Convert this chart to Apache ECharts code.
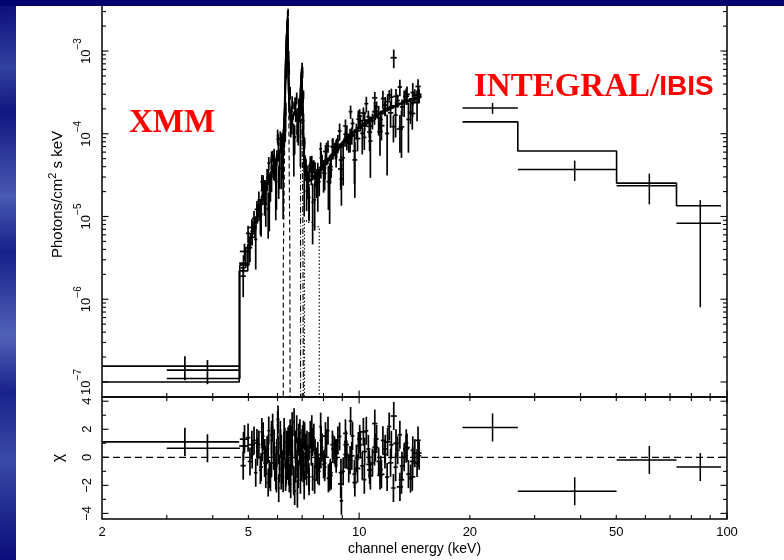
<!DOCTYPE html>
<html>
<head>
<meta charset="utf-8">
<script src="https://cdn.jsdelivr.net/npm/echarts@6/dist/echarts.min.js"></script>
<style>
  html, body { margin: 0; padding: 0; background: #ffffff; }
  #chart { width: 784px; height: 560px; }
</style>
</head>
<body>
<div id="chart"></div>
<script>
// ---------------- XMM-Newton spectrum 1 (bin edges in keV, photons/cm^2/s/keV) ----------------
const xmm1Edges = [2.0, 4.72, 4.98, 5.12, 5.24, 5.34, 5.44, 5.53, 5.62, 5.70, 5.78, 5.86, 5.94, 6.01, 6.08, 6.15, 6.22, 6.29, 6.35, 6.39, 6.43, 6.48, 6.55, 6.62, 6.69, 6.76, 6.83, 6.90, 6.97, 7.03, 7.09, 7.17, 7.26, 7.36, 7.47, 7.59, 7.72, 7.86, 8.00, 8.15, 8.31, 8.48, 8.66, 8.85, 9.05, 9.26, 9.48, 9.71, 9.95, 10.20, 10.46, 10.73, 11.01, 11.30, 11.60, 11.91, 12.23, 12.56, 12.90, 13.25, 13.61, 13.98, 14.36, 14.75];
const xmm1Flux = [1.55e-7, 2.73e-6, 4.19e-6, 9.52e-6, 1.12e-5, 1.02e-5, 2.61e-5, 2.07e-5, 3.06e-5, 2.21e-5, 5.41e-5, 3.64e-5, 5.22e-5, 2.84e-5, 7.44e-5, 6.05e-5, 1.08e-4, 2.0e-4, 1.575e-3, 2.95e-3, 5.65e-4, 1.14e-4, 1.44e-4, 2.2e-4, 1.67e-4, 1.04e-4, 1.75e-4, 2.0e-4, 6.6e-4, 2.98e-4, 4.25e-5, 3.43e-5, 1.55e-5, 3.08e-5, 4.05e-5, 2.96e-5, 2.63e-5, 4.58e-5, 3.87e-5, 7.08e-5, 4.0e-5, 6.6e-5, 8.31e-5, 2.85e-5, 8.63e-5, 7.73e-5, 1.33e-4, 1.10e-4, 1.44e-4, 9.04e-5, 1.61e-4, 1.44e-4, 2.12e-4, 1.48e-4, 2.01e-4, 2.95e-4, 1.22e-4, 2.52e-4, 2.11e-4, 3.01e-4, 1.83e-4, 2.89e-4, 2.90e-4];
const xmm1Err = [5.0e-8, 6.6e-7, 1.38e-6, 2.1e-6, 3.0e-6, 4.2e-6, 5.4e-6, 6.6e-6, 5.9e-6, 7.0e-6, 8.1e-6, 9.5e-6, 1.08e-5, 1.21e-5, 1.34e-5, 1.5e-5, 1.28e-5, 3.6e-5, 1.5e-4, 3.0e-4, 5.0e-5, 2.4e-5, 2.1e-5, 2.4e-5, 2.85e-5, 2.55e-5, 2.25e-5, 3.0e-5, 6.0e-5, 3.6e-5, 1.25e-5, 7.0e-6, 6.75e-6, 7.0e-6, 7.5e-6, 8.0e-6, 8.75e-6, 9.75e-6, 1.08e-5, 1.2e-5, 1.08e-5, 1.2e-5, 1.34e-5, 1.5e-5, 1.66e-5, 1.84e-5, 2.04e-5, 2.24e-5, 2.44e-5, 2.66e-5, 2.88e-5, 3.12e-5, 3.36e-5, 3.6e-5, 3.86e-5, 4.1e-5, 4.34e-5, 4.58e-5, 4.8e-5, 5.0e-5, 5.2e-5, 5.5e-5, 5.7e-5];
const xmm1Model = [1.0e-7, 2.2e-6, 4.6e-6, 7.0e-6, 1.0e-5, 1.4e-5, 1.8e-5, 2.2e-5, 2.7e-5, 3.2e-5, 3.7e-5, 4.3e-5, 4.9e-5, 5.5e-5, 6.1e-5, 6.8e-5, 8.5e-5, 2.4e-4, 1.5e-3, 2.6e-3, 5.0e-4, 1.6e-4, 1.4e-4, 1.6e-4, 1.9e-4, 1.7e-4, 1.5e-4, 2.0e-4, 6.0e-4, 2.4e-4, 5.0e-5, 2.8e-5, 2.7e-5, 2.8e-5, 3.0e-5, 3.2e-5, 3.5e-5, 3.9e-5, 4.3e-5, 4.8e-5, 5.4e-5, 6.0e-5, 6.7e-5, 7.5e-5, 8.3e-5, 9.2e-5, 1.02e-4, 1.12e-4, 1.22e-4, 1.33e-4, 1.44e-4, 1.56e-4, 1.68e-4, 1.80e-4, 1.93e-4, 2.05e-4, 2.17e-4, 2.29e-4, 2.40e-4, 2.51e-4, 2.62e-4, 2.73e-4, 2.84e-4];

// ---------------- XMM-Newton spectrum 2 ----------------
const xmm2Edges = [3.0, 4.74, 5.02, 5.20, 5.35, 5.48, 5.60, 5.72, 5.84, 5.96, 6.08, 6.20, 6.30, 6.37, 6.42, 6.50, 6.62, 6.74, 6.86, 6.95, 7.02, 7.10, 7.22, 7.38, 7.56, 7.76, 7.98, 8.22, 8.48, 8.76, 9.06, 9.38, 9.72, 10.08, 10.46, 10.86, 11.28, 11.72, 12.18, 12.66, 13.16, 13.68, 14.22, 14.78];
const xmm2Flux = [1.39e-7, 3.78e-6, 7.36e-6, 1.22e-5, 1.06e-5, 2.1e-5, 1.24e-5, 4.63e-5, 3.78e-5, 8.6e-5, 3.82e-5, 9.28e-5, 5.35e-4, 2.25e-3, 2.66e-4, 1.86e-4, 9.1e-5, 1.73e-4, 2.28e-4, 4.6e-4, 1.44e-4, 4.09e-5, 1.70e-5, 3.79e-5, 2.57e-5, 3.91e-5, 6.11e-5, 3.68e-5, 6.32e-5, 3.75e-5, 9.85e-5, 9.63e-5, 8.73e-5, 1.78e-4, 1.23e-4, 1.85e-4, 1.25e-4, 2.45e-4, 8.3e-4, 1.14e-4, 2.84e-4, 1.76e-4, 3.0e-4];
const xmm2Err = [4.5e-8, 9.1e-7, 1.96e-6, 3.15e-6, 4.9e-6, 6.65e-6, 7.0e-6, 8.96e-6, 1.12e-5, 1.37e-5, 1.68e-5, 1.6e-5, 7.2e-5, 2.5e-4, 5.6e-5, 3.0e-5, 3.5e-5, 3.2e-5, 3.4e-5, 6.7e-5, 3.2e-5, 9.8e-6, 7.84e-6, 8.1e-6, 8.96e-6, 1.04e-5, 1.2e-5, 1.2e-5, 1.42e-5, 1.66e-5, 1.94e-5, 2.26e-5, 2.6e-5, 2.98e-5, 3.36e-5, 3.8e-5, 4.2e-5, 4.66e-5, 2.1e-4, 5.5e-5, 5.95e-5, 6.4e-5, 6.7e-5];
const xmm2Model = [1.10e-7, 2.6e-6, 5.6e-6, 9.0e-6, 1.4e-5, 1.9e-5, 2.5e-5, 3.2e-5, 4.0e-5, 4.9e-5, 6.0e-5, 8.0e-5, 6.0e-4, 2.1e-3, 3.5e-4, 1.5e-4, 1.75e-4, 1.6e-4, 1.7e-4, 4.8e-4, 1.6e-4, 3.5e-5, 2.8e-5, 2.9e-5, 3.2e-5, 3.7e-5, 4.3e-5, 5.0e-5, 5.9e-5, 6.9e-5, 8.1e-5, 9.4e-5, 1.08e-4, 1.24e-4, 1.40e-4, 1.58e-4, 1.76e-4, 1.94e-4, 2.12e-4, 2.30e-4, 2.48e-4, 2.65e-4, 2.80e-4];

// ---------------- XMM-Newton spectrum 3 ----------------
const xmm3Edges = [4.76, 4.92, 5.06, 5.18, 5.29, 5.39, 5.49, 5.58, 5.66, 5.74, 5.82, 5.90, 5.97, 6.04, 6.11, 6.18, 6.25, 6.32, 6.38, 6.41, 6.46, 6.53, 6.60, 6.67, 6.73, 6.80, 6.87, 6.93, 6.99, 7.05, 7.13, 7.21, 7.31, 7.42, 7.53, 7.65, 7.79, 7.93, 8.08, 8.23, 8.40, 8.57, 8.75, 8.95, 9.15, 9.37, 9.59, 9.83, 10.07, 10.33, 10.59, 10.87, 11.15, 11.45, 11.76, 12.07, 12.40, 12.73, 13.08, 13.43, 13.80, 14.18, 14.56];
const xmm3Flux = [1.90e-6, 6.26e-6, 6.63e-6, 5.29e-6, 1.58e-5, 2.61e-5, 1.72e-5, 2.88e-5, 1.68e-5, 4.90e-5, 4.14e-5, 2.51e-5, 9.39e-5, 4.18e-5, 7.87e-5, 3.56e-5, 1.66e-4, 8.33e-4, 2.69e-3, 8.5e-4, 3.14e-4, 1.34e-4, 9.3e-5, 2.27e-4, 2.7e-4, 1.12e-4, 1.76e-4, 3.06e-4, 5.55e-4, 4.0e-5, 3.74e-5, 2.56e-5, 4.37e-5, 1.48e-5, 3.43e-5, 2.33e-5, 6.55e-5, 3.38e-5, 6.21e-5, 2.6e-5, 6.9e-5, 6.13e-5, 1.08e-4, 5.13e-5, 9.36e-5, 1.85e-4, 6.21e-5, 1.50e-4, 1.01e-4, 2.31e-4, 8.18e-5, 1.85e-4, 1.56e-4, 2.66e-4, 1.01e-4, 2.77e-4, 1.68e-4, 3.67e-4, 2.46e-4, 1.49e-4, 3.15e-4, 2.39e-4];
const xmm3Err = [8.4e-7, 1.47e-6, 2.17e-6, 3.01e-6, 4.2e-6, 5.6e-6, 7.0e-6, 8.58e-6, 1.02e-5, 1.21e-5, 1.4e-5, 1.61e-5, 1.82e-5, 2.03e-5, 2.28e-5, 2.63e-5, 3.25e-5, 1.35e-4, 3.6e-4, 1.5e-4, 5.5e-5, 3.63e-5, 3.88e-5, 4.63e-5, 4.5e-5, 4.0e-5, 4.0e-5, 6.3e-5, 8.1e-5, 3.0e-5, 1.05e-5, 9.6e-6, 9.8e-6, 1.02e-5, 1.09e-5, 1.19e-5, 1.3e-5, 1.44e-5, 1.61e-5, 1.79e-5, 2.0e-5, 2.22e-5, 2.49e-5, 2.77e-5, 3.06e-5, 3.4e-5, 3.75e-5, 4.1e-5, 4.48e-5, 4.87e-5, 5.25e-5, 5.67e-5, 6.09e-5, 6.55e-5, 6.97e-5, 7.39e-5, 7.8e-5, 8.23e-5, 8.61e-5, 9.0e-5, 9.38e-5, 9.73e-5];
const xmm3Model = [2.4e-6, 4.2e-6, 6.2e-6, 8.6e-6, 1.2e-5, 1.6e-5, 2.0e-5, 2.45e-5, 2.9e-5, 3.45e-5, 4.0e-5, 4.6e-5, 5.2e-5, 5.8e-5, 6.5e-5, 7.5e-5, 1.3e-4, 9.0e-4, 2.4e-3, 1.0e-3, 2.2e-4, 1.45e-4, 1.55e-4, 1.85e-4, 1.8e-4, 1.6e-4, 1.6e-4, 3.5e-4, 4.5e-4, 1.0e-4, 3.0e-5, 2.75e-5, 2.8e-5, 2.9e-5, 3.1e-5, 3.4e-5, 3.7e-5, 4.1e-5, 4.6e-5, 5.1e-5, 5.7e-5, 6.35e-5, 7.1e-5, 7.9e-5, 8.75e-5, 9.7e-5, 1.07e-4, 1.17e-4, 1.28e-4, 1.39e-4, 1.50e-4, 1.62e-4, 1.74e-4, 1.87e-4, 1.99e-4, 2.11e-4, 2.23e-4, 2.35e-4, 2.46e-4, 2.57e-4, 2.68e-4, 2.78e-4];

// ---------------- XMM-Newton spectrum 4 ----------------
const xmm4Edges = [5.40, 5.52, 5.63, 5.73, 5.83, 5.92, 6.00, 6.07, 6.14, 6.21, 6.28, 6.34, 6.38, 6.42, 6.47, 6.54, 6.61, 6.68, 6.75, 6.82, 6.89, 6.96, 7.01, 7.07, 7.15, 7.25, 7.37, 7.50, 7.64, 7.80, 7.97, 8.15, 8.35, 8.57, 8.80, 9.05, 9.31, 9.59, 9.88, 10.19, 10.51, 10.85, 11.21, 11.58, 11.97, 12.38, 12.81, 13.26, 13.73, 14.22, 14.70];
const xmm4Flux = [2.06e-5, 1.41e-5, 4.40e-5, 2.99e-5, 5.33e-5, 2.64e-5, 6.21e-5, 8.88e-5, 4.89e-5, 8.48e-5, 1.44e-4, 1.33e-3, 2.13e-3, 6.79e-4, 1.63e-4, 2.41e-4, 7.84e-5, 2.18e-4, 1.49e-4, 2.2e-4, 9.36e-5, 5.7e-4, 2.71e-4, 7.8e-5, 2.03e-5, 3.41e-5, 4.56e-5, 1.59e-5, 3.45e-5, 5.1e-5, 3.32e-5, 2.64e-5, 6.99e-5, 6.87e-5, 4.82e-5, 1.24e-4, 8.74e-5, 4.83e-5, 1.63e-4, 1.46e-4, 1.05e-4, 2.72e-4, 1.06e-4, 2.22e-4, 1.79e-4, 2.83e-4, 1.21e-4, 2.99e-4, 2.38e-4, 3.73e-4];
const xmm4Err = [5.1e-6, 6.6e-6, 8.4e-6, 1.02e-5, 1.23e-5, 1.44e-5, 1.62e-5, 1.8e-5, 2.01e-5, 2.4e-5, 4.0e-5, 1.44e-4, 2.76e-4, 7.2e-5, 3.4e-5, 4.35e-5, 4.8e-5, 5.55e-5, 5.25e-5, 4.65e-5, 5.4e-5, 6.6e-5, 3.6e-5, 1.2e-5, 8.7e-6, 8.25e-6, 8.55e-6, 9.15e-6, 1.0e-5, 1.13e-5, 1.26e-5, 1.44e-5, 1.65e-5, 1.89e-5, 2.16e-5, 2.46e-5, 2.79e-5, 3.15e-5, 3.51e-5, 3.9e-5, 4.32e-5, 4.74e-5, 5.19e-5, 5.64e-5, 6.09e-5, 6.54e-5, 6.99e-5, 7.41e-5, 7.83e-5, 8.22e-5];
const xmm4Model = [1.7e-5, 2.2e-5, 2.8e-5, 3.4e-5, 4.1e-5, 4.8e-5, 5.4e-5, 6.0e-5, 6.7e-5, 8.0e-5, 2.0e-4, 1.2e-3, 2.3e-3, 6.0e-4, 1.7e-4, 1.45e-4, 1.6e-4, 1.85e-4, 1.75e-4, 1.55e-4, 1.8e-4, 5.5e-4, 3.0e-4, 6.0e-5, 2.9e-5, 2.75e-5, 2.85e-5, 3.05e-5, 3.35e-5, 3.75e-5, 4.2e-5, 4.8e-5, 5.5e-5, 6.3e-5, 7.2e-5, 8.2e-5, 9.3e-5, 1.05e-4, 1.17e-4, 1.30e-4, 1.44e-4, 1.58e-4, 1.73e-4, 1.88e-4, 2.03e-4, 2.18e-4, 2.33e-4, 2.47e-4, 2.61e-4, 2.74e-4];

// ---------------- INTEGRAL/IBIS ----------------
const ibisEdges = [19.1, 27.0, 50.1, 72.9, 96.3];
const ibisFlux = [2.05e-4, 3.71e-5, 2.35e-5, 8.3e-6];
const ibisErr = [3.1e-5, 1.02e-5, 9.5e-6, 7.5e-6];
const ibisModel = [1.39e-4, 6.18e-5, 2.53e-5, 1.35e-5];

// ---------------- Model line components ----------------
const feKaEdges = [6.22, 6.29, 6.35, 6.39, 6.43, 6.48, 6.52];
const feKaVals = [2.6e-6, 1.9e-4, 1.4e-3, 2.4e-3, 4.0e-4, 4.5e-6];
const feKbEdges = [6.93, 6.97, 7.03, 7.10];
const feKbVals = [1.2e-4, 5.6e-4, 1.1e-5];
const edgeCompEdges = [7.10, 7.20, 7.49, 7.79];
const edgeCompVals = [9.0e-6, 8.5e-6, 7.5e-6];

// ---------------- Axis ticks and labels ----------------
const energyLabels = [2, 5, 10, 20, 50, 100];
const energyMajor = [10, 100];
const energyMinor = [3, 4, 5, 6, 7, 8, 9, 20, 30, 40, 50, 60, 70, 80, 90];
const fluxMajor = [1e-7, 1e-6, 1e-5, 1e-4, 1e-3];
const fluxMantissas = [2, 3, 4, 5, 6, 7, 8, 9];
const chiMajor = [-4, -2, 0, 2, 4];
const chiMinor = [-3, -1, 1, 3];

const E_MIN = 2, E_MAX = 100;
const FLUX_MIN = 6.58e-8, FLUX_MAX = 3.70e-3;
const CHI_MIN = -4.4, CHI_MAX = 4.3;
const FLOOR = 1e-12; // far below the flux axis: model components drop off the panel

const INK = '#000000';
const FONT = 'Liberation Sans';

const fluxMinor = [];
fluxMajor.forEach(d => fluxMantissas.forEach(m => {
  const v = d * m;
  if (v < FLUX_MAX) fluxMinor.push(v);
}));

// ---------- helpers ----------
function histogram(edges, vals) {
  const pts = [];
  vals.forEach((v, i) => { pts.push([edges[i], v], [edges[i + 1], v]); });
  return pts;
}
function component(edges, vals) {
  return [[edges[0], FLOOR]].concat(histogram(edges, vals), [[edges[edges.length - 1], FLOOR]]);
}
function crossRows(edges, flux, err) {
  return flux.map((f, i) => [edges[i], edges[i + 1], (edges[i] + edges[i + 1]) / 2, f, err[i]]);
}
function chiRows(edges, flux, err, model) {
  return flux.map((f, i) => [edges[i], edges[i + 1], (edges[i] + edges[i + 1]) / 2, (f - model[i]) / err[i]]);
}

function seg(x1, y1, x2, y2, w) {
  return { type: 'line', shape: { x1, y1, x2, y2 }, style: { stroke: INK, lineWidth: w || 1.5 } };
}

function crossRenderer(w) {
  return function (params, api) {
    const lo = api.value(0), hi = api.value(1), c = api.value(2), f = api.value(3), e = api.value(4);
    const low = f - e > 0 ? f - e : FLOOR;
    const a = api.coord([lo, f]), b = api.coord([hi, f]);
    const t = api.coord([c, f + e]), d = api.coord([c, low]);
    return { type: 'group', children: [seg(a[0], a[1], b[0], b[1], w), seg(t[0], t[1], d[0], d[1], w)] };
  };
}
function chiRenderer(w) {
  return function (params, api) {
    const lo = api.value(0), hi = api.value(1), c = api.value(2), r = api.value(3);
    const a = api.coord([lo, r]), b = api.coord([hi, r]);
    const t = api.coord([c, r + 1]), d = api.coord([c, r - 1]);
    return { type: 'group', children: [seg(a[0], a[1], b[0], b[1], w), seg(t[0], t[1], d[0], d[1], w)] };
  };
}

// Inward ticks on the four sides of a panel
function tickRenderer(yLo, yHi, withTop) {
  return function (params, api) {
    const kind = api.value(2), major = api.value(3);
    const len = major ? 6.5 : 4;
    const out = [];
    if (kind === 0) {
      const x = api.value(0);
      const b = api.coord([x, yLo]);
      out.push(seg(b[0], b[1], b[0], b[1] - len, 1.1));
      if (withTop) {
        const t = api.coord([x, yHi]);
        out.push(seg(t[0], t[1], t[0], t[1] + len, 1.1));
      }
    } else {
      const y = api.value(1);
      const l = api.coord([E_MIN, y]), r = api.coord([E_MAX, y]);
      out.push(seg(l[0], l[1], l[0] + len, l[1], 1.1));
      out.push(seg(r[0], r[1], r[0] - len, r[1], 1.1));
    }
    return { type: 'group', children: out };
  };
}

const ticksTop = [].concat(
  energyMajor.map(v => [v, FLUX_MIN, 0, 1]),
  energyMinor.map(v => [v, FLUX_MIN, 0, 0]),
  fluxMajor.map(v => [E_MIN, v, 1, 1]),
  fluxMinor.map(v => [E_MIN, v, 1, 0])
);
const ticksBottom = [].concat(
  energyMajor.map(v => [v, CHI_MIN, 0, 1]),
  energyMinor.map(v => [v, CHI_MIN, 0, 0]),
  chiMajor.map(v => [E_MIN, v, 1, 1]),
  chiMinor.map(v => [E_MIN, v, 1, 0])
);

function modelSeries(edges, vals) {
  return { type: 'line', xAxisIndex: 0, yAxisIndex: 0, data: histogram(edges, vals), symbol: 'none', lineStyle: { width: 1.6, color: INK }, z: 3 };
}
function fluxSeries(edges, flux, err, w) {
  return { type: 'custom', xAxisIndex: 0, yAxisIndex: 0, clip: true, renderItem: crossRenderer(w), data: crossRows(edges, flux, err), encode: { x: [0, 1, 2], y: 3 }, z: 4 };
}
function chiSeries(edges, flux, err, model, w) {
  return { type: 'custom', xAxisIndex: 1, yAxisIndex: 1, clip: true, renderItem: chiRenderer(w), data: chiRows(edges, flux, err, model), encode: { x: [0, 1, 2], y: 3 }, z: 4 };
}

const XMM_W = 1.7, IBIS_W = 1.5;

const chart = echarts.init(document.getElementById('chart'), null, { renderer: 'canvas' });

chart.setOption({
  animation: false,
  backgroundColor: '#ffffff',
  grid: [
    { left: 102, top: 4, width: 625, height: 393, show: true, borderColor: INK, borderWidth: 1.5, backgroundColor: 'transparent' },
    { left: 102, top: 397, width: 625, height: 122, show: true, borderColor: INK, borderWidth: 1.5, backgroundColor: 'transparent' }
  ],
  xAxis: [
    {
      gridIndex: 0, type: 'log', logBase: 10, min: E_MIN, max: E_MAX,
      axisLine: { show: false }, axisTick: { show: false }, axisLabel: { show: false }, splitLine: { show: false }
    },
    {
      gridIndex: 1, type: 'log', logBase: 10, min: E_MIN, max: E_MAX,
      axisLine: { show: false }, axisTick: { show: false }, splitLine: { show: false },
      axisLabel: {
        customValues: energyLabels, formatter: v => String(Math.round(v)),
        margin: 7, fontSize: 13, color: INK, fontFamily: FONT
      },
      name: 'channel energy (keV)', nameLocation: 'middle', nameGap: 23,
      nameTextStyle: { fontSize: 14, color: INK, fontFamily: FONT }
    }
  ],
  yAxis: [
    {
      gridIndex: 0, type: 'log', logBase: 10, min: FLUX_MIN, max: FLUX_MAX,
      axisLine: { show: false }, axisTick: { show: false }, splitLine: { show: false },
      axisLabel: {
        customValues: fluxMajor, rotate: 90, margin: 9,
        formatter: v => '{b|10}{s|\u2212' + (-Math.round(Math.log10(v))) + '}',
        rich: {
          b: { fontSize: 13, fontFamily: FONT, color: INK, lineHeight: 20, verticalAlign: 'bottom' },
          s: { fontSize: 10, fontFamily: FONT, color: INK, lineHeight: 20, verticalAlign: 'top' }
        }
      },
      name: 'Photons/cm{s|2} s keV', nameLocation: 'middle', nameGap: 34,
      nameTextStyle: {
        fontSize: 15, color: INK, fontFamily: FONT, padding: [0, 0, 0, 12],
        rich: { s: { fontSize: 11, fontFamily: FONT, color: INK, verticalAlign: 'top', lineHeight: 20 } }
      }
    },
    {
      gridIndex: 1, type: 'value', min: CHI_MIN, max: CHI_MAX,
      axisLine: { show: false }, axisTick: { show: false }, splitLine: { show: false },
      axisLabel: {
        customValues: chiMajor, rotate: 90, margin: 8,
        formatter: v => (v < 0 ? '\u2212' + (-v) : String(v)),
        fontSize: 13, color: INK, fontFamily: FONT
      },
      name: '\u03c7', nameLocation: 'middle', nameGap: 35,
      nameTextStyle: { fontSize: 16, color: INK, fontFamily: FONT }
    }
  ],
  graphic: [
    // slide background edges
    {
      type: 'rect', z: 100, shape: { x: 0, y: 0, width: 16, height: 560 },
      style: {
        fill: new echarts.graphic.LinearGradient(0, 0, 0.3, 1, [
          { offset: 0, color: '#0a0a78' }, { offset: 0.12, color: '#3242a0' },
          { offset: 0.2, color: '#121680' }, { offset: 0.35, color: '#4a5ab4' },
          { offset: 0.45, color: '#16208a' }, { offset: 0.6, color: '#5262b8' },
          { offset: 0.7, color: '#1a228c' }, { offset: 0.82, color: '#3a4aa6' },
          { offset: 1, color: '#0a0c7a' }
        ])
      }
    },
    { type: 'rect', z: 100, shape: { x: 0, y: 0, width: 784, height: 6 }, style: { fill: '#03046e' } },
    {
      type: 'text', z: 50, left: 129, top: 107,
      style: { text: 'XMM', fill: '#ff0000', font: 'bold 33px "Liberation Serif"' }
    },
    {
      type: 'text', z: 50, left: 474, top: 71,
      style: {
        text: '{a|INTEGRAL/}{b|IBIS}',
        rich: {
          a: { fill: '#ff0000', fontSize: 33, fontWeight: 'bold', fontFamily: 'Liberation Serif' },
          b: { fill: '#ff0000', fontSize: 28, fontWeight: 'bold', fontFamily: 'Liberation Sans' }
        }
      }
    }
  ],
  series: [
    // ---- top panel: models ----
    modelSeries(xmm1Edges, xmm1Model),
    modelSeries(xmm2Edges, xmm2Model),
    modelSeries(xmm3Edges, xmm3Model),
    modelSeries(xmm4Edges, xmm4Model),
    modelSeries(ibisEdges, ibisModel),
    // ---- top panel: line components ----
    { type: 'line', xAxisIndex: 0, yAxisIndex: 0, data: component(feKaEdges, feKaVals), symbol: 'none', lineStyle: { width: 1.1, color: INK, type: [5, 3] }, z: 2 },
    { type: 'line', xAxisIndex: 0, yAxisIndex: 0, data: component(feKbEdges, feKbVals), symbol: 'none', lineStyle: { width: 1.1, color: INK, type: [6, 2, 1, 2] }, z: 2 },
    { type: 'line', xAxisIndex: 0, yAxisIndex: 0, data: component(edgeCompEdges, edgeCompVals), symbol: 'none', lineStyle: { width: 1.1, color: INK, type: [1.5, 2] }, z: 2 },
    // ---- top panel: data ----
    fluxSeries(xmm1Edges, xmm1Flux, xmm1Err, XMM_W),
    fluxSeries(xmm2Edges, xmm2Flux, xmm2Err, XMM_W),
    fluxSeries(xmm3Edges, xmm3Flux, xmm3Err, XMM_W),
    fluxSeries(xmm4Edges, xmm4Flux, xmm4Err, XMM_W),
    fluxSeries(ibisEdges, ibisFlux, ibisErr, IBIS_W),
    // ---- residual panel ----
    { type: 'line', xAxisIndex: 1, yAxisIndex: 1, data: [[E_MIN, 0], [E_MAX, 0]], symbol: 'none', lineStyle: { width: 1.2, color: INK, type: [7, 4] }, z: 2 },
    chiSeries(xmm1Edges, xmm1Flux, xmm1Err, xmm1Model, XMM_W),
    chiSeries(xmm2Edges, xmm2Flux, xmm2Err, xmm2Model, XMM_W),
    chiSeries(xmm3Edges, xmm3Flux, xmm3Err, xmm3Model, XMM_W),
    chiSeries(xmm4Edges, xmm4Flux, xmm4Err, xmm4Model, XMM_W),
    chiSeries(ibisEdges, ibisFlux, ibisErr, ibisModel, IBIS_W),
    // ---- frame ticks ----
    { type: 'custom', xAxisIndex: 0, yAxisIndex: 0, clip: false, renderItem: tickRenderer(FLUX_MIN, FLUX_MAX, false), data: ticksTop, encode: { x: 0, y: 1 }, z: 5, silent: true },
    { type: 'custom', xAxisIndex: 1, yAxisIndex: 1, clip: false, renderItem: tickRenderer(CHI_MIN, CHI_MAX, true), data: ticksBottom, encode: { x: 0, y: 1 }, z: 5, silent: true }
  ]
});
</script>
</body>
</html>
